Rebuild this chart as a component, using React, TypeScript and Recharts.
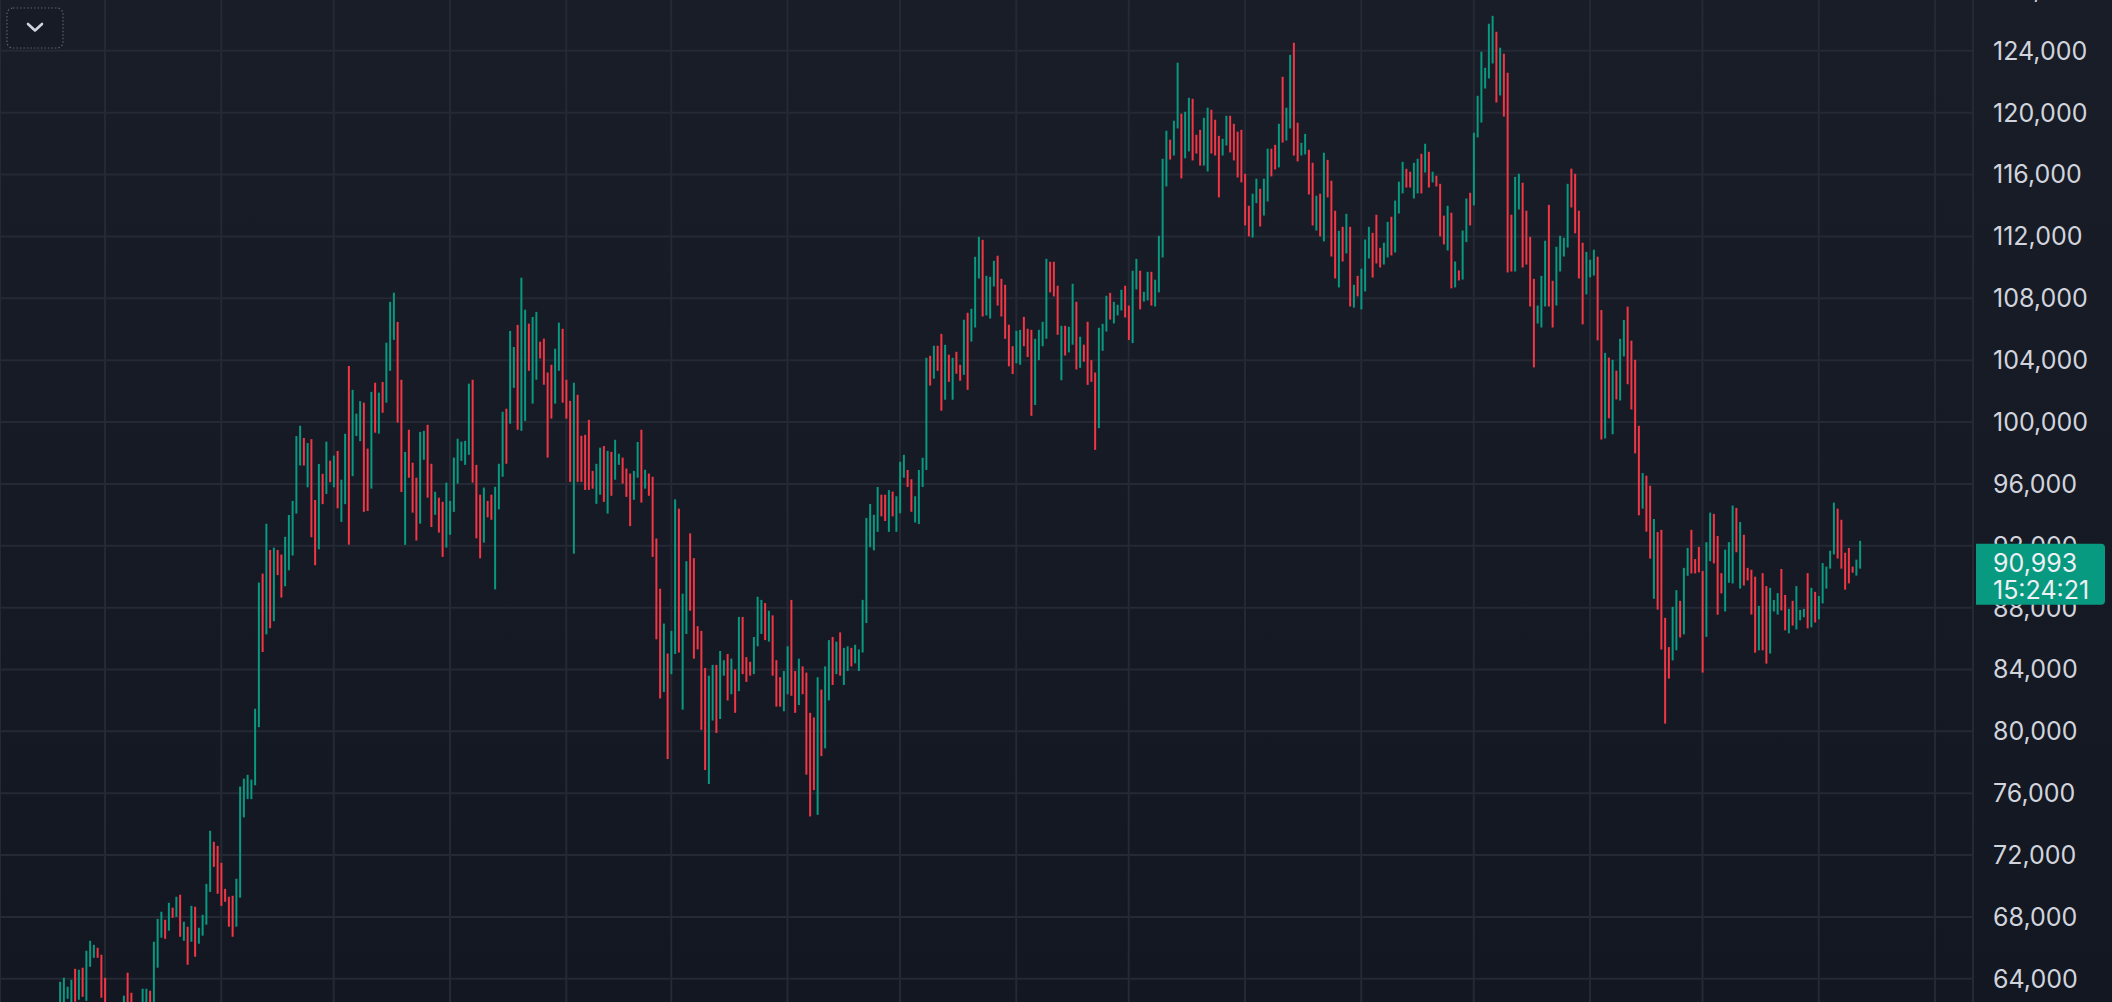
import React from "react";
import { Bar, CartesianGrid, Cell, ComposedChart, ReferenceLine, XAxis, YAxis } from "recharts";

// Daily high/low bars, BTC in USD thousands. Day index 0 = 2024-10-01.
const FIRST_DAY = -12; // 2024-09-19

// prettier-ignore
const HIGH = [
  // Sep 2024 (19-30)
  63.81, 64.07, 63.49, 63.94, 64.65, 64.59, 64.72, 65.82, 66.46, 66.20, 66.01, 65.56,
  // Oct 2024
  64.07, 62.40, 62.10, 62.40, 62.30, 62.91, 64.39, 63.10, 62.40, 61.30, 63.36, 63.36, 63.23, 66.40, 67.88, 68.34, 67.82, 68.92, 68.60, 69.31, 69.44, 67.69, 67.37, 68.72, 68.66, 67.30, 68.14, 70.14, 73.57, 72.86, 72.60,
  // Nov 2024
  71.50, 69.82, 69.31, 69.37, 70.47, 76.43, 76.94, 77.19, 76.88, 81.47, 89.62, 90.20, 93.42, 91.73, 91.88, 91.73, 91.43, 92.58, 93.99, 94.90, 99.09, 99.76, 98.97, 98.64, 98.89, 94.96, 97.29, 96.65, 98.73, 97.50,
  // Dec 2024
  97.83, 98.13, 96.27, 99.24, 103.62, 102.08, 100.54, 101.35, 101.25, 98.28, 101.95, 102.54, 101.90, 102.59, 105.13, 107.77, 108.36, 106.47, 102.73, 98.07, 99.50, 97.37, 96.40, 99.36, 99.43, 99.82, 97.30, 95.49, 95.11, 94.84, 96.08,
  // Jan 2025
  94.90, 97.70, 98.92, 98.73, 98.78, 102.48, 102.73, 97.23, 95.30, 95.76, 94.90, 95.30, 95.81, 97.30, 100.66, 100.86, 105.89, 104.85, 106.28, 109.33, 107.26, 106.36, 106.79, 107.12, 105.19, 105.39, 103.20, 103.70, 104.74, 106.42, 106.03,
  // Feb 2025
  102.73, 101.37, 102.54, 101.76, 99.11, 99.17, 100.14, 96.84, 97.30, 98.34, 98.45, 98.13, 98.07, 98.85, 97.95, 97.70, 96.99, 96.67, 96.84, 98.71, 99.50, 96.91, 96.67, 96.46, 92.47, 89.22, 86.97, 85.03,
  // Mar 2025
  86.50, 95.00, 94.40, 88.90, 91.00, 92.80, 91.20, 86.80, 86.50, 84.10, 83.60, 84.30, 84.30, 85.20, 84.60, 85.00, 84.70, 84.00, 87.40, 87.40, 84.80, 84.50, 86.10, 88.70, 88.50, 88.30, 87.80, 87.50, 84.60, 83.50, 83.90,
  // Apr 2025
  85.50, 88.50, 83.90, 84.70, 84.20, 83.80, 81.20, 80.90, 83.50, 82.70, 84.20, 85.90, 86.10, 85.80, 86.40, 85.40, 85.50, 85.40, 85.60, 85.30, 88.50, 93.80, 94.70, 94.00, 95.80, 95.30, 95.30, 95.60, 95.50, 95.20,
  // May 2025
  97.43, 97.88, 96.90, 96.30, 95.20, 96.90, 97.69, 104.15, 104.28, 104.93, 104.93, 105.70, 104.99, 104.35, 104.15, 104.54, 103.70, 106.61, 107.06, 107.32, 110.68, 111.97, 111.78, 109.45, 109.39, 110.42, 110.75, 109.26, 108.87, 106.29, 104.90,
  // Jun 2025
  105.90, 105.96, 106.80, 106.03, 105.96, 105.38, 105.96, 106.48, 110.55, 110.36, 110.36, 108.81, 106.22, 106.22, 106.16, 108.94, 107.77, 105.51, 105.00, 106.48, 104.00, 103.20, 106.09, 106.35, 108.16, 108.35, 107.77, 107.58, 108.55, 108.81,
  // Jul 2025
  107.53, 109.78, 110.55, 109.78, 108.42, 109.71, 109.71, 109.20, 112.04, 117.02, 118.83, 118.25, 119.48, 123.23, 119.93, 120.06, 120.96, 120.90, 118.57, 118.89, 119.67, 120.32, 120.19, 119.54, 118.50, 118.31, 119.80, 119.80, 119.28, 118.77, 118.89,
  // Aug 2025
  116.05, 113.98, 114.76, 115.73, 115.08, 115.73, 117.67, 117.67, 117.92, 119.28, 122.32, 120.32, 123.74, 124.52, 119.35, 118.05, 118.63, 117.60, 116.76, 114.63, 114.76, 117.41, 116.95, 115.60, 113.66, 112.36, 112.62, 113.46, 112.62, 108.87, 109.45,
  // Sep 2025
  109.91, 111.80, 112.62, 112.23, 113.40, 111.26, 111.59, 112.94, 113.27, 114.32, 115.54, 116.82, 116.37, 116.18, 116.76, 117.02, 117.34, 117.99, 117.47, 116.18, 115.92, 115.40, 113.34, 113.98, 113.53, 110.38, 109.80, 112.38, 114.45, 114.82,
  // Oct 2025
  118.70, 121.09, 123.94, 122.90, 125.75, 126.26, 125.23, 124.20, 123.81, 122.58, 113.40, 115.85, 116.05, 115.47, 113.66, 111.97, 109.26, 107.53, 109.45, 111.72, 114.04, 109.13, 111.33, 112.04, 111.91, 115.40, 116.38, 116.05, 113.66, 111.59, 111.00,
  // Nov 2025
  110.49, 111.14, 110.69, 107.24, 104.47, 104.16, 104.02, 103.32, 105.38, 106.60, 107.46, 105.26, 104.02, 99.76, 96.70, 96.53, 95.88, 93.73, 92.89, 93.03, 87.34, 85.45, 88.05, 89.13, 88.44, 90.57, 91.86, 93.03, 91.14, 91.92,
  // Dec 2025
  90.37, 92.23, 94.14, 94.06, 92.63, 90.23, 91.75, 92.23, 94.60, 94.45, 93.54, 92.71, 90.57, 90.45, 90.00, 88.11, 90.23, 89.39, 89.28, 88.49, 88.94, 90.50, 88.82, 87.92, 88.44, 89.39, 87.85, 87.92, 90.23, 89.28, 89.02,
  // Jan 2026 (1-12)
  88.75, 90.88, 90.65, 91.68, 94.79, 94.40, 93.68, 91.55, 91.86, 90.65, 91.10, 92.32,
];

// prettier-ignore
const LOW = [
  61.60, 62.40, 62.71, 62.40, 62.52, 62.65, 62.84, 62.58, 64.78, 65.36, 65.36, 62.78,
  60.20, 60.00, 60.40, 60.70, 61.70, 61.90, 62.10, 61.90, 60.30, 58.90, 60.40, 62.45, 61.90, 62.40, 64.72, 66.66, 66.59, 67.11, 67.95, 68.01, 66.72, 66.46, 64.91, 66.40, 65.43, 66.27, 66.79, 67.50, 69.62, 71.24, 69.50,
  68.72, 68.98, 67.37, 66.72, 67.37, 69.25, 74.44, 75.62, 75.62, 76.52, 80.27, 85.13, 86.27, 86.67, 87.12, 90.10, 88.65, 89.38, 90.41, 91.37, 94.08, 97.19, 97.19, 95.78, 92.55, 90.74, 91.77, 94.69, 95.35, 96.11,
  95.78, 94.42, 93.54, 94.69, 92.07, 96.50, 99.09, 98.76, 94.19, 94.25, 95.69, 99.31, 99.25, 100.60, 101.25, 103.31, 105.31, 99.96, 95.48, 92.06, 96.40, 94.14, 92.34, 93.43, 97.56, 95.11, 93.21, 94.00, 92.85, 91.28, 91.88,
  92.71, 94.19, 96.02, 97.49, 97.23, 97.88, 96.08, 92.48, 91.19, 92.20, 93.84, 93.68, 89.18, 94.35, 96.46, 97.30, 99.89, 102.21, 99.50, 99.43, 100.07, 103.31, 101.19, 102.73, 104.11, 102.41, 97.70, 100.22, 101.19, 103.31, 101.25,
  100.22, 96.13, 91.49, 96.13, 96.13, 95.61, 95.61, 95.69, 94.71, 95.30, 94.84, 94.08, 95.23, 96.27, 97.23, 96.02, 95.16, 93.27, 94.97, 96.40, 94.79, 95.69, 95.23, 91.28, 85.95, 82.13, 82.55, 78.21,
  83.70, 85.00, 85.10, 81.40, 86.30, 87.80, 84.70, 85.30, 80.10, 77.50, 76.60, 80.70, 79.90, 80.80, 83.60, 82.00, 82.40, 81.20, 82.60, 83.70, 83.20, 83.60, 83.70, 85.50, 86.30, 85.90, 85.80, 83.60, 81.60, 81.60, 81.30,
  82.40, 82.30, 81.20, 81.70, 82.40, 77.20, 74.50, 76.20, 74.60, 78.40, 78.90, 82.00, 83.00, 83.70, 83.60, 83.00, 83.90, 84.20, 84.40, 83.90, 85.10, 87.00, 91.90, 91.70, 92.90, 93.90, 93.60, 92.90, 93.90, 92.90,
  94.10, 96.40, 95.80, 94.20, 93.50, 93.40, 95.80, 96.90, 102.36, 102.80, 103.31, 100.73, 101.44, 102.60, 101.44, 103.12, 102.67, 103.05, 102.08, 105.20, 106.11, 109.28, 106.82, 106.89, 106.69, 108.76, 107.53, 106.82, 105.38, 103.60, 103.10,
  103.80, 103.70, 104.90, 104.20, 100.40, 101.10, 104.00, 104.90, 105.38, 108.38, 108.12, 105.64, 102.70, 104.30, 104.50, 105.00, 103.40, 103.50, 103.90, 102.40, 102.60, 98.20, 99.60, 104.60, 105.85, 106.62, 106.37, 106.89, 107.21, 106.76,
  105.30, 105.10, 108.57, 107.28, 107.79, 107.86, 107.53, 107.47, 108.38, 110.64, 115.23, 116.97, 117.23, 118.98, 115.75, 117.05, 117.49, 116.91, 117.36, 116.58, 116.58, 116.20, 117.36, 117.23, 114.52, 117.23, 117.88, 117.43, 116.91, 115.81, 115.49,
  112.71, 112.00, 111.93, 114.15, 112.64, 113.35, 114.26, 115.88, 116.33, 116.46, 118.07, 118.20, 118.98, 117.23, 116.85, 117.23, 117.30, 114.71, 112.71, 112.38, 112.00, 111.68, 114.52, 110.70, 109.28, 108.70, 110.38, 110.90, 107.47, 107.40, 108.12,
  107.28, 108.44, 110.57, 109.34, 110.25, 109.99, 110.18, 110.64, 110.77, 110.96, 113.48, 114.78, 115.16, 115.16, 114.45, 114.78, 114.78, 116.13, 115.16, 115.49, 115.23, 112.00, 111.48, 111.09, 108.64, 108.70, 109.15, 109.21, 111.63, 112.71,
  114.00, 118.40, 119.36, 121.56, 122.21, 123.18, 120.66, 121.11, 119.75, 109.67, 109.73, 109.73, 113.74, 109.99, 110.18, 107.47, 103.53, 106.37, 106.11, 107.47, 107.47, 106.11, 107.53, 109.73, 110.70, 111.28, 113.87, 112.20, 109.28, 106.31, 108.25,
  109.35, 109.47, 105.28, 98.87, 98.94, 100.24, 99.21, 101.46, 101.39, 104.24, 102.44, 100.81, 97.97, 93.97, 94.40, 92.91, 91.17, 88.57, 87.87, 85.29, 80.50, 83.41, 84.59, 85.24, 86.07, 86.27, 90.06, 90.21, 90.21, 90.28,
  83.80, 86.11, 91.00, 90.86, 87.54, 88.92, 87.75, 89.61, 89.56, 91.58, 89.23, 89.43, 89.76, 87.55, 85.09, 85.24, 85.24, 84.38, 85.03, 87.75, 87.55, 87.82, 86.53, 86.34, 86.84, 86.59, 87.18, 87.38, 86.66, 86.73, 87.04,
  87.24, 88.27, 89.23, 90.52, 91.44, 91.17, 90.52, 89.16, 89.57, 90.26, 90.07, 90.52,
];

// u = closed up (green), d = closed down (red); one entry per month
// prettier-ignore
const DIR = [
  "uuuu" + "d" + "u" + "d" + "uuu" + "dd",
  "ddd" + "uuu" + "dddd" + "uu" + "d" + "uuu" + "dudududud" + "uuuu" + "dd",
  "dddd" + "uuuuuuu" + "d" + "u" + "d" + "u" + "dd" + "uuuuu" + "d" + "u" + "dd" + "u" + "d" + "u" + "d",
  "u" + "d" + "uu" + "d" + "uuu" + "dd" + "u" + "d" + "u" + "d" + "uuu" + "dd" + "u" + "ddd" + "uu" + "dd" + "u" + "dd" + "u",
  "uuuuuu" + "ddd" + "u" + "dd" + "uuu" + "d" + "uu" + "d" + "uu" + "d" + "uu" + "dddd" + "uu" + "d",
  "dd" + "u" + "ddddd" + "uu" + "d" + "u" + "d" + "uu" + "ddd" + "uu" + "d" + "u" + "dddd" + "u" + "d",
  "uu" + "d" + "uu" + "ddddd" + "uu" + "d" + "uu" + "d" + "u" + "d" + "u" + "ddd" + "uuu" + "d" + "u" + "ddd" + "u",
  "u" + "dd" + "u" + "dddd" + "u" + "d" + "uu" + "d" + "u" + "d" + "uu" + "d" + "uuuuuuu" + "dd" + "u" + "d" + "u",
  "uu" + "dd" + "uuuu" + "d" + "u" + "dd" + "u" + "d" + "u" + "dd" + "u" + "d" + "uuu" + "d" + "uuu" + "ddddd",
  "uu" + "ddd" + "uuuu" + "ddd" + "u" + "d" + "uu" + "d" + "u" + "dddd" + "uuu" + "d" + "uuu" + "d",
  "d" + "uu" + "d" + "uu" + "d" + "uuuu" + "d" + "uu" + "d" + "uu" + "ddd" + "uu" + "ddd" + "uu" + "dddd",
  "dd" + "uu" + "d" + "uu" + "dd" + "u" + "d" + "uu" + "dd" + "uu" + "dd" + "u" + "d" + "u" + "ddd" + "u" + "d" + "u" + "d" + "u" + "d",
  "uuu" + "ddd" + "uu" + "d" + "uuu" + "dd" + "uu" + "d" + "u" + "d" + "u" + "ddd" + "u" + "d" + "u" + "d" + "uu" + "d",
  "uuuuuu" + "d" + "u" + "ddd" + "uu" + "dddd" + "uuu" + "dd" + "uuuu" + "dddd" + "u",
  "uu" + "dd" + "u" + "d" + "u" + "d" + "uu" + "dddd" + "u" + "dd" + "u" + "dddd" + "uu" + "d" + "uu" + "ddd",
  "d" + "uu" + "ddd" + "uuu" + "d" + "u" + "dddd" + "u" + "dd" + "uuu" + "dd" + "u" + "d" + "uuu" + "d" + "u" + "d",
  "uuuuu" + "ddddd" + "uu",
].join("");

const MONTH_STARTS = [-30, 0, 31, 61, 92, 123, 151, 182, 212, 243, 273, 304, 335, 365, 396, 426, 457, 488];
const PRICE_TICKS = [60000, 64000, 68000, 72000, 76000, 80000, 84000, 88000, 92000, 96000, 100000, 104000, 108000, 112000, 116000, 120000, 124000, 128000];
const LAST_PRICE = 90993;
const LAST_TIME = "15:24:21";

const X_DOMAIN: [number, number] = [-28, 498.13];
const Y_DOMAIN: [number, number] = [58624, 131163];

const UP = "#089981";
const DOWN = "#f23645";
const GRID = "#252934";
const TEXT = "#d1d4dc";
const FONT = "Inter, 'Noto Sans', sans-serif";

const data = HIGH.map((h, k) => ({
  day: FIRST_DAY + k,
  range: [LOW[k] * 1000, h * 1000],
  up: DIR[k] === "u",
}));

const fmt = (v: number) => v.toLocaleString("en-US");

function PriceTag(props: any) {
  const { viewBox } = props;
  if (!viewBox) return null;
  const x = viewBox.x + viewBox.width + 3;
  const y = viewBox.y;
  const w = 129;
  const r = 4;
  const top = y - 17.5;
  const h = 61;
  const d = `M${x},${top} H${x + w - r} Q${x + w},${top} ${x + w},${top + r} V${top + h - r} Q${x + w},${top + h} ${x + w - r},${top + h} H${x} Z`;
  return (
    <g>
      <path d={d} fill={UP} />
      <text x={x + 17} y={y + 2} dy="0.355em" fill="#eef0f3" fontSize={25} fontFamily={FONT}>
        {fmt(LAST_PRICE)}
      </text>
      <text x={x + 17} y={y + 29} dy="0.355em" fill="#eef0f3" fontSize={25} fontFamily={FONT}>
        {LAST_TIME}
      </text>
    </g>
  );
}

const CHART_W = 2112;
const CHART_H = 1122;
const AXIS_W = 139;
const layer: React.CSSProperties = { position: "absolute", left: 0, top: -60 };

export default function App() {
  return (
    <div
      style={{
        position: "fixed",
        left: 0,
        top: 0,
        width: 2112,
        height: 1002,
        overflow: "hidden",
        background: "linear-gradient(180deg, #191d28 0%, #131722 100%)",
      }}
    >
      <div style={layer}>
        <ComposedChart width={CHART_W} height={CHART_H} data={data} margin={{ top: 0, right: 0, bottom: 0, left: 0 }}>
          <CartesianGrid stroke={GRID} strokeWidth={2} />
          <XAxis dataKey="day" type="number" domain={X_DOMAIN} ticks={MONTH_STARTS} allowDataOverflow hide />
          <YAxis
            type="number"
            orientation="right"
            width={AXIS_W}
            domain={Y_DOMAIN}
            ticks={PRICE_TICKS}
            allowDataOverflow
            axisLine={false}
            tickLine={false}
            tickSize={0}
            tickMargin={20}
            tickFormatter={fmt}
            tick={{ fill: TEXT, fontSize: 25, fontFamily: FONT }}
          />
          <Bar dataKey="range" barSize={2} isAnimationActive={false}>
            {data.map((d) => (
              <Cell key={d.day} fill={d.up ? UP : DOWN} />
            ))}
          </Bar>
        </ComposedChart>
      </div>
      {/* last-price tag, drawn over the price scale labels */}
      <div style={layer}>
        <ComposedChart width={CHART_W} height={CHART_H} data={data} margin={{ top: 0, right: AXIS_W, bottom: 0, left: 0 }}>
          <XAxis dataKey="day" type="number" domain={X_DOMAIN} allowDataOverflow hide />
          <YAxis type="number" domain={Y_DOMAIN} allowDataOverflow hide />
          <ReferenceLine y={LAST_PRICE} stroke="none" ifOverflow="visible" label={<PriceTag />} />
        </ComposedChart>
      </div>
      <svg width={58} height={42} style={{ position: "absolute", left: 6, top: 7 }}>
        <rect x={1} y={1} width={56} height={40} rx={6} fill="#171b26" stroke="#5d606b" strokeWidth={1.2} strokeDasharray="1.5 2" />
        <polyline points="22,17 29,23.5 36,17" fill="none" stroke={TEXT} strokeWidth={2.6} strokeLinecap="round" strokeLinejoin="round" />
      </svg>
    </div>
  );
}
